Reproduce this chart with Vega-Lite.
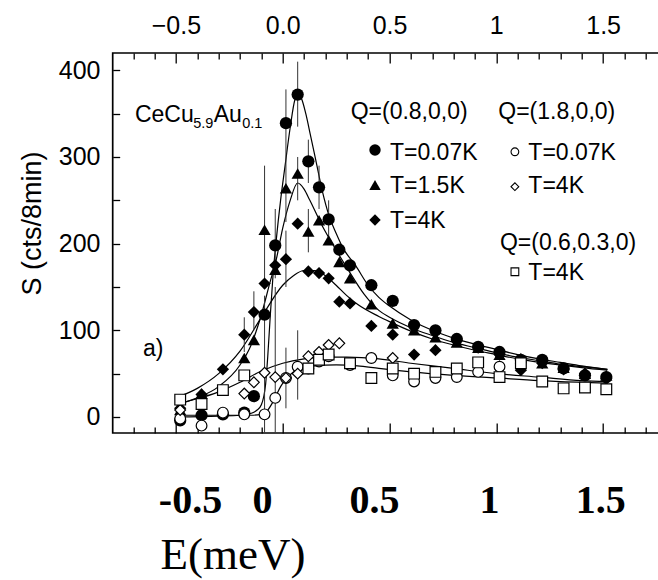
{
 "$schema": "https://vega.github.io/schema/vega-lite/v6.json",
 "width": 548.3,
 "height": 380,
 "autosize": "none",
 "padding": {"left": 112.7, "top": 53, "right": 0, "bottom": 147},
 "background": "white",
 "config": {
  "view": {"stroke": "black", "strokeWidth": 1.7},
  "axis": {"grid": false, "domain": false, "tickColor": "black", "labelColor": "black", "titleColor": "black", "tickWidth": 1.3, "labelOverlap": false, "labelFlush": false}
 },
 "datasets": {
  "fits": [
   {"c":"A","E":-0.5,"S":0},{"c":"A","E":-0.3,"S":1},{"c":"A","E":-0.2,"S":2},{"c":"A","E":-0.15,"S":4},{"c":"A","E":-0.12,"S":8},{"c":"A","E":-0.1,"S":14},{"c":"A","E":-0.08,"S":38},{"c":"A","E":-0.07,"S":70},{"c":"A","E":-0.06,"S":110},{"c":"A","E":-0.045,"S":165},{"c":"A","E":-0.03,"S":205},{"c":"A","E":-0.01,"S":250},{"c":"A","E":0.01,"S":288},{"c":"A","E":0.035,"S":334},{"c":"A","E":0.057,"S":366},{"c":"A","E":0.075,"S":373},{"c":"A","E":0.09,"S":366},{"c":"A","E":0.108,"S":350},{"c":"A","E":0.13,"S":325},{"c":"A","E":0.155,"S":296},{"c":"A","E":0.186,"S":260},{"c":"A","E":0.217,"S":232},{"c":"A","E":0.25,"S":212},{"c":"A","E":0.28,"S":196},{"c":"A","E":0.343,"S":174},{"c":"A","E":0.4,"S":152},{"c":"A","E":0.45,"S":138},{"c":"A","E":0.5,"S":128},{"c":"A","E":0.6,"S":112},{"c":"A","E":0.7,"S":100},{"c":"A","E":0.8,"S":91},{"c":"A","E":0.9,"S":84},{"c":"A","E":1.0,"S":78},{"c":"A","E":1.1,"S":72},{"c":"A","E":1.2,"S":67},{"c":"A","E":1.3,"S":63},{"c":"A","E":1.4,"S":59},{"c":"A","E":1.52,"S":55},
   {"c":"B","E":-0.5,"S":14},{"c":"B","E":-0.4,"S":22},{"c":"B","E":-0.3,"S":35},{"c":"B","E":-0.2,"S":60},{"c":"B","E":-0.15,"S":82},{"c":"B","E":-0.1,"S":118},{"c":"B","E":-0.06,"S":155},{"c":"B","E":-0.03,"S":182},{"c":"B","E":0.0,"S":218},{"c":"B","E":0.035,"S":250},{"c":"B","E":0.07,"S":270},{"c":"B","E":0.1,"S":263},{"c":"B","E":0.127,"S":250},{"c":"B","E":0.186,"S":220},{"c":"B","E":0.249,"S":193},{"c":"B","E":0.311,"S":168},{"c":"B","E":0.38,"S":142},{"c":"B","E":0.45,"S":123},{"c":"B","E":0.5,"S":115},{"c":"B","E":0.6,"S":103},{"c":"B","E":0.7,"S":94},{"c":"B","E":0.8,"S":86},{"c":"B","E":0.9,"S":80},{"c":"B","E":1.0,"S":74},{"c":"B","E":1.1,"S":69},{"c":"B","E":1.2,"S":65},{"c":"B","E":1.3,"S":61},{"c":"B","E":1.4,"S":58},{"c":"B","E":1.52,"S":55},
   {"c":"C","E":-0.5,"S":22},{"c":"C","E":-0.4,"S":33},{"c":"C","E":-0.3,"S":50},{"c":"C","E":-0.2,"S":76},{"c":"C","E":-0.1,"S":115},{"c":"C","E":0.0,"S":152},{"c":"C","E":0.05,"S":163},{"c":"C","E":0.1,"S":169},{"c":"C","E":0.15,"S":169},{"c":"C","E":0.2,"S":163},{"c":"C","E":0.25,"S":152},{"c":"C","E":0.3,"S":140},{"c":"C","E":0.35,"S":130},{"c":"C","E":0.45,"S":116},{"c":"C","E":0.5,"S":110},{"c":"C","E":0.6,"S":99},{"c":"C","E":0.7,"S":90},{"c":"C","E":0.8,"S":83},{"c":"C","E":0.9,"S":77},{"c":"C","E":1.0,"S":72},{"c":"C","E":1.1,"S":67},{"c":"C","E":1.2,"S":63},{"c":"C","E":1.3,"S":60},{"c":"C","E":1.4,"S":57},{"c":"C","E":1.52,"S":54},
   {"c":"D","E":-0.5,"S":2},{"c":"D","E":-0.3,"S":2},{"c":"D","E":-0.15,"S":2},{"c":"D","E":-0.1,"S":3},{"c":"D","E":-0.07,"S":8},{"c":"D","E":-0.04,"S":20},{"c":"D","E":-0.01,"S":35},{"c":"D","E":0.02,"S":45},{"c":"D","E":0.05,"S":52},{"c":"D","E":0.1,"S":57},{"c":"D","E":0.15,"S":59},{"c":"D","E":0.25,"S":60},{"c":"D","E":0.35,"S":59},{"c":"D","E":0.45,"S":56},{"c":"D","E":0.6,"S":52},{"c":"D","E":0.8,"S":48},{"c":"D","E":1.0,"S":45},{"c":"D","E":1.2,"S":42},{"c":"D","E":1.4,"S":40},{"c":"D","E":1.52,"S":39},
   {"c":"E","E":-0.5,"S":15},{"c":"E","E":-0.4,"S":21},{"c":"E","E":-0.3,"S":29},{"c":"E","E":-0.2,"S":40},{"c":"E","E":-0.1,"S":53},{"c":"E","E":0.0,"S":62},{"c":"E","E":0.1,"S":67},{"c":"E","E":0.2,"S":69},{"c":"E","E":0.3,"S":69},{"c":"E","E":0.45,"S":67},{"c":"E","E":0.6,"S":62},{"c":"E","E":0.8,"S":56},{"c":"E","E":1.0,"S":50},{"c":"E","E":1.2,"S":46},{"c":"E","E":1.4,"S":42},{"c":"E","E":1.52,"S":41}
  ],
  "pts": [
   {"s":"fc","E":-0.48,"S":-4},{"s":"fc","E":-0.38,"S":2},{"s":"fc","E":-0.28,"S":3},{"s":"fc","E":-0.18,"S":5},{"s":"fc","E":-0.135,"S":24},{"s":"fc","E":-0.085,"S":118},{"s":"fc","E":-0.035,"S":198},{"s":"fc","E":0.015,"S":339},{"s":"fc","E":0.07,"S":372},{"s":"fc","E":0.12,"S":295},{"s":"fc","E":0.17,"S":265},{"s":"fc","E":0.215,"S":228},{"s":"fc","E":0.265,"S":193},{"s":"fc","E":0.315,"S":175},{"s":"fc","E":0.415,"S":152},{"s":"fc","E":0.515,"S":134},{"s":"fc","E":0.615,"S":106},{"s":"fc","E":0.715,"S":100},{"s":"fc","E":0.815,"S":90},{"s":"fc","E":0.915,"S":81},{"s":"fc","E":1.015,"S":75},{"s":"fc","E":1.115,"S":66},{"s":"fc","E":1.215,"S":66},{"s":"fc","E":1.315,"S":56},{"s":"fc","E":1.415,"S":48},{"s":"fc","E":1.515,"S":46},
   {"s":"tr","E":-0.48,"S":8},{"s":"tr","E":-0.38,"S":27},{"s":"tr","E":-0.18,"S":68},{"s":"tr","E":-0.135,"S":89},{"s":"tr","E":-0.085,"S":216},{"s":"tr","E":-0.035,"S":170},{"s":"tr","E":0.015,"S":264},{"s":"tr","E":0.07,"S":281},{"s":"tr","E":0.12,"S":214},{"s":"tr","E":0.17,"S":227},{"s":"tr","E":0.215,"S":204},{"s":"tr","E":0.265,"S":179},{"s":"tr","E":0.315,"S":160},{"s":"tr","E":0.415,"S":130},{"s":"tr","E":0.515,"S":108},{"s":"tr","E":0.615,"S":100},{"s":"tr","E":0.715,"S":92},{"s":"tr","E":0.815,"S":86},{"s":"tr","E":0.915,"S":80},{"s":"tr","E":1.015,"S":72},{"s":"tr","E":1.115,"S":68},{"s":"tr","E":1.215,"S":62},{"s":"tr","E":1.315,"S":57},{"s":"tr","E":1.415,"S":50},{"s":"tr","E":1.515,"S":48},
   {"s":"fd","E":-0.48,"S":10},{"s":"fd","E":-0.38,"S":26},{"s":"fd","E":-0.28,"S":55},{"s":"fd","E":-0.18,"S":95},{"s":"fd","E":-0.135,"S":121},{"s":"fd","E":-0.085,"S":154},{"s":"fd","E":-0.035,"S":175},{"s":"fd","E":0.015,"S":182},{"s":"fd","E":0.07,"S":223},{"s":"fd","E":0.12,"S":168},{"s":"fd","E":0.17,"S":166},{"s":"fd","E":0.215,"S":160},{"s":"fd","E":0.265,"S":133},{"s":"fd","E":0.315,"S":131},{"s":"fd","E":0.415,"S":105},{"s":"fd","E":0.515,"S":95},{"s":"fd","E":0.615,"S":72},{"s":"fd","E":0.715,"S":77},{"s":"fd","E":0.815,"S":88},{"s":"fd","E":0.915,"S":80},{"s":"fd","E":1.015,"S":72},{"s":"fd","E":1.115,"S":54},{"s":"fd","E":1.215,"S":62},{"s":"fd","E":1.315,"S":55},{"s":"fd","E":1.415,"S":50},{"s":"fd","E":1.515,"S":44},
   {"s":"oc","E":-0.48,"S":-2},{"s":"oc","E":-0.38,"S":-10},{"s":"oc","E":-0.28,"S":5},{"s":"oc","E":-0.18,"S":3},{"s":"oc","E":-0.085,"S":3},{"s":"oc","E":-0.035,"S":22},{"s":"oc","E":0.015,"S":45},{"s":"oc","E":0.07,"S":58},{"s":"oc","E":0.12,"S":56},{"s":"oc","E":0.17,"S":64},{"s":"oc","E":0.215,"S":70},{"s":"oc","E":0.315,"S":60},{"s":"oc","E":0.415,"S":68},{"s":"oc","E":0.515,"S":48},{"s":"oc","E":0.615,"S":41},{"s":"oc","E":0.715,"S":45},{"s":"oc","E":0.815,"S":46},{"s":"oc","E":0.915,"S":52},{"s":"oc","E":1.015,"S":58},
   {"s":"od","E":-0.48,"S":8},{"s":"od","E":-0.18,"S":27},{"s":"od","E":-0.135,"S":40},{"s":"od","E":-0.085,"S":51},{"s":"od","E":-0.035,"S":46},{"s":"od","E":0.015,"S":45},{"s":"od","E":0.07,"S":50},{"s":"od","E":0.12,"S":70},{"s":"od","E":0.17,"S":75},{"s":"od","E":0.215,"S":83},{"s":"od","E":0.265,"S":85},{"s":"od","E":0.515,"S":68},
   {"s":"sq","E":-0.48,"S":20},{"s":"sq","E":-0.38,"S":15},{"s":"sq","E":-0.28,"S":31},{"s":"sq","E":-0.18,"S":48},{"s":"sq","E":0.12,"S":56},{"s":"sq","E":0.17,"S":66},{"s":"sq","E":0.215,"S":72},{"s":"sq","E":0.315,"S":62},{"s":"sq","E":0.415,"S":45},{"s":"sq","E":0.515,"S":56},{"s":"sq","E":0.615,"S":50},{"s":"sq","E":0.715,"S":52},{"s":"sq","E":0.815,"S":56},{"s":"sq","E":0.915,"S":63},{"s":"sq","E":1.015,"S":46},{"s":"sq","E":1.115,"S":62},{"s":"sq","E":1.215,"S":41},{"s":"sq","E":1.315,"S":33},{"s":"sq","E":1.415,"S":34},{"s":"sq","E":1.515,"S":32}
  ],
  "err": [
   {"E":0.07,"lo":335,"hi":410},{"E":0.07,"lo":250,"hi":300},{"E":0.015,"lo":300,"hi":378},{"E":0.015,"lo":225,"hi":300},{"E":0.015,"lo":150,"hi":215},{"E":-0.035,"lo":160,"hi":240},{"E":-0.085,"lo":150,"hi":290},{"E":-0.085,"lo":-18,"hi":140},{"E":-0.035,"lo":-18,"hi":150},{"E":0.015,"lo":10,"hi":80},{"E":0.07,"lo":20,"hi":100},{"E":0.12,"lo":270,"hi":320},{"E":0.12,"lo":190,"hi":240},{"E":0.17,"lo":240,"hi":290},{"E":0.215,"lo":205,"hi":250},{"E":-0.135,"lo":100,"hi":145},{"E":-0.18,"lo":75,"hi":115}
  ],
  "legpts": [
   {"s":"fc","E":0.432,"S":308},{"s":"tr","E":0.432,"S":267.7},{"s":"fd","E":0.432,"S":227.3},
   {"s":"oc","E":1.087,"S":306},{"s":"od","E":1.087,"S":265.7},{"s":"sq","E":1.087,"S":167.6}
  ],
  "labels": [
   {"E":0.318,"S":343.5,"t":"Q=(0.8,0,0)"},{"E":1.009,"S":343.5,"t":"Q=(1.8,0,0)"},
   {"E":0.502,"S":296.5,"t":"T=0.07K"},{"E":0.502,"S":258,"t":"T=1.5K"},{"E":0.502,"S":217.7,"t":"T=4K"},
   {"E":1.15,"S":296.5,"t":"T=0.07K"},{"E":1.15,"S":258,"t":"T=4K"},
   {"E":1.017,"S":192.7,"t":"Q=(0.6,0.3,0)"},{"E":1.15,"S":158,"t":"T=4K"},
   {"E":-0.692,"S":340.7,"t":"CeCu"},{"E":-0.323,"S":340.7,"t":"Au"},{"E":-0.654,"S":70.4,"t":"a)"}
  ],
  "subs": [
   {"E":-0.419,"S":333.1,"t":"5.9"},{"E":-0.19,"S":333.1,"t":"0.1"}
  ]
 },
 "layer": [
  {
   "data": {"name": "fits"},
   "mark": {"type": "line", "color": "black", "strokeWidth": 1.2, "interpolate": "monotone"},
   "encoding": {
    "x": {"field": "E", "type": "quantitative", "scale": {"domain": [-0.796, 1.771], "nice": false, "zero": false},
     "axis": {"orient": "top", "values": [-0.7,-0.6,-0.4,-0.3,-0.2,-0.1,0.1,0.2,0.3,0.4,0.6,0.7,0.8,0.9,1.1,1.2,1.3,1.4,1.6,1.7], "labels": false, "tickSize": -6, "title": null}},
    "y": {"field": "S", "type": "quantitative", "scale": {"domain": [-18.5, 420], "nice": false, "zero": false},
     "axis": {"orient": "left", "values": [0,50,100,150,200,250,300,350,400], "labelExpr": "datum.value % 100 == 0 ? datum.label : ''", "tickSize": -7, "labelPadding": 19.7, "labelFont": "Liberation Sans", "labelFontSize": 25, "labelBaseline": "middle",
      "title": "S (cts/8min)", "titleFont": "Liberation Sans", "titleFontSize": 27, "titleFontWeight": "normal", "titleX": -80, "titleY": 170, "titleAngle": -90, "titleAlign": "center", "titleBaseline": "middle"}},
    "detail": {"field": "c"}
   }
  },
  {
   "data": {"name": "err"},
   "mark": {"type": "rule", "color": "#333333", "strokeWidth": 1},
   "encoding": {
    "x": {"field": "E", "type": "quantitative", "scale": {"domain": [-0.796, 1.771], "nice": false, "zero": false},
     "axis": {"orient": "top", "values": [-0.5, 0, 0.5, 1, 1.5], "labelExpr": "datum.value == 1 ? '1' : datum.label", "tickSize": -10, "labelPadding": 29.2, "labelBaseline": "alphabetic", "labelFont": "Liberation Sans", "labelFontSize": 25, "title": null}},
    "y": {"field": "lo", "type": "quantitative", "scale": {"domain": [-18.5, 420], "nice": false, "zero": false}, "axis": null},
    "y2": {"field": "hi"}
   }
  },
  {
   "data": {"name": "pts"},
   "transform": [{"filter": "indexof(['fc','tr','fd'], datum.s) >= 0"}],
   "mark": {"type": "point", "filled": true, "color": "black", "size": 150, "opacity": 1},
   "encoding": {
    "x": {"field": "E", "type": "quantitative", "scale": {"domain": [-0.796, 1.771], "nice": false, "zero": false},
     "axis": {"orient": "bottom", "values": [-0.7,-0.6,-0.4,-0.3,-0.2,-0.1,0.1,0.2,0.3,0.4,0.6,0.7,0.8,0.9,1.1,1.2,1.3,1.4,1.6,1.7], "labels": false, "tickSize": -6, "title": null}},
    "y": {"field": "S", "type": "quantitative", "scale": {"domain": [-18.5, 420], "nice": false, "zero": false}, "axis": null},
    "shape": {"field": "s", "type": "nominal", "scale": {"domain": ["fc","tr","fd","oc","od","sq"], "range": ["circle","triangle-up","diamond","circle","diamond","square"]}, "legend": null}
   }
  },
  {
   "data": {"name": "pts"},
   "transform": [{"filter": "indexof(['oc','od','sq'], datum.s) >= 0"}],
   "mark": {"type": "point", "filled": true, "fill": "white", "stroke": "black", "strokeWidth": 1.2, "size": 115, "opacity": 1},
   "encoding": {
    "x": {"field": "E", "type": "quantitative", "scale": {"domain": [-0.796, 1.771], "nice": false, "zero": false},
     "axis": {"orient": "bottom", "values": [-0.5, 0, 0.5, 1, 1.5], "labels": false, "tickSize": -10, "title": null}},
    "y": {"field": "S", "type": "quantitative", "scale": {"domain": [-18.5, 420], "nice": false, "zero": false}, "axis": null},
    "shape": {"field": "s", "type": "nominal", "scale": {"domain": ["fc","tr","fd","oc","od","sq"], "range": ["circle","triangle-up","diamond","circle","diamond","square"]}, "legend": null}
   }
  },
  {
   "data": {"name": "legpts"},
   "transform": [{"filter": "indexof(['fc','tr','fd'], datum.s) >= 0"}],
   "mark": {"type": "point", "filled": true, "color": "black", "size": 130, "opacity": 1},
   "encoding": {
    "x": {"field": "E", "type": "quantitative", "scale": {"domain": [-0.796, 1.771], "nice": false, "zero": false}, "axis": null},
    "y": {"field": "S", "type": "quantitative", "scale": {"domain": [-18.5, 420], "nice": false, "zero": false}, "axis": null},
    "shape": {"field": "s", "type": "nominal", "scale": {"domain": ["fc","tr","fd","oc","od","sq"], "range": ["circle","triangle-up","diamond","circle","diamond","square"]}, "legend": null}
   }
  },
  {
   "data": {"name": "legpts"},
   "transform": [{"filter": "indexof(['oc','od','sq'], datum.s) >= 0"}],
   "mark": {"type": "point", "filled": true, "fill": "white", "stroke": "black", "strokeWidth": 1.1, "size": 60, "opacity": 1},
   "encoding": {
    "x": {"field": "E", "type": "quantitative", "scale": {"domain": [-0.796, 1.771], "nice": false, "zero": false}, "axis": null},
    "y": {"field": "S", "type": "quantitative", "scale": {"domain": [-18.5, 420], "nice": false, "zero": false}, "axis": null},
    "shape": {"field": "s", "type": "nominal", "scale": {"domain": ["fc","tr","fd","oc","od","sq"], "range": ["circle","triangle-up","diamond","circle","diamond","square"]}, "legend": null}
   }
  },
  {
   "data": {"name": "labels"},
   "mark": {"type": "text", "align": "left", "baseline": "alphabetic", "font": "Liberation Sans", "fontSize": 23, "color": "black"},
   "encoding": {
    "x": {"field": "E", "type": "quantitative", "scale": {"domain": [-0.796, 1.771], "nice": false, "zero": false},
     "axis": {"orient": "bottom", "values": [-0.434, -0.097, 0.427, 0.966, 1.486], "labelExpr": "datum.value < -0.3 ? '-0.5' : datum.value < 0.2 ? '0' : datum.value < 0.7 ? '0.5' : datum.value < 1.2 ? '1' : '1.5'", "ticks": false, "tickSize": 0, "labelFont": "Liberation Serif", "labelFontWeight": "bold", "labelFontSize": 40, "labelBaseline": "alphabetic", "labelPadding": 79,
      "title": "E(meV)", "titleFont": "Liberation Serif", "titleFontWeight": "normal", "titleFontSize": 45, "titleX": 47.3, "titleY": 135, "titleAlign": "left", "titleBaseline": "alphabetic"}},
    "y": {"field": "S", "type": "quantitative", "scale": {"domain": [-18.5, 420], "nice": false, "zero": false}, "axis": null},
    "text": {"field": "t"}
   }
  },
  {
   "data": {"name": "subs"},
   "mark": {"type": "text", "align": "left", "baseline": "alphabetic", "font": "Liberation Sans", "fontSize": 14.5, "color": "black"},
   "encoding": {
    "x": {"field": "E", "type": "quantitative", "scale": {"domain": [-0.796, 1.771], "nice": false, "zero": false}, "axis": null},
    "y": {"field": "S", "type": "quantitative", "scale": {"domain": [-18.5, 420], "nice": false, "zero": false}, "axis": null},
    "text": {"field": "t"}
   }
  }
 ],
 "resolve": {"axis": {"x": "independent", "y": "independent"}}
}
